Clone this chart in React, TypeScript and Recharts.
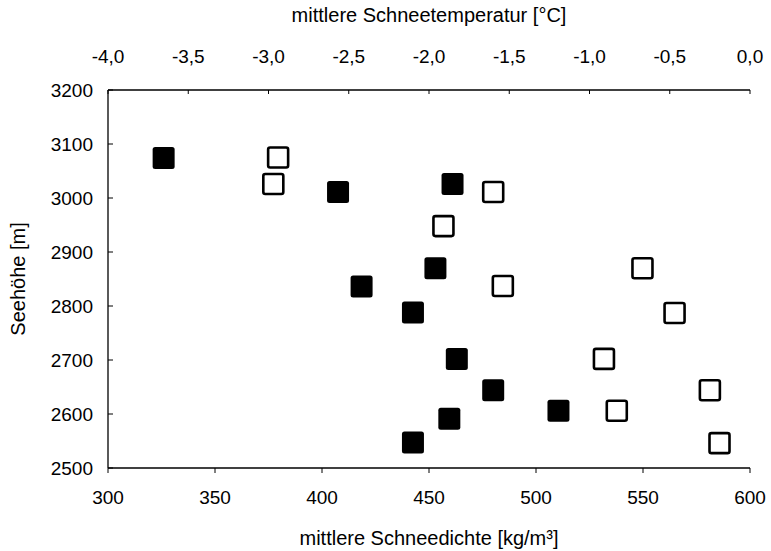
import React from 'react'
import {
  ScatterChart,
  Scatter,
  XAxis,
  YAxis,
  Label,
} from 'recharts'

// Seehöhe [m] der Messpunkte
const DENSITY_ELEVATION = [3074, 3026, 3011, 2870, 2836, 2788, 2702, 2644, 2606, 2591, 2547]
const DENSITY_VALUES = [326, 461, 407.5, 453, 418.5, 442.5, 463, 480, 510.5, 459.5, 442.5]

const TEMP_ELEVATION = [3075, 3026, 3011, 2948, 2870, 2837, 2787, 2702, 2644, 2606, 2546]
const TEMP_VALUES = [-2.94, -2.97, -1.6, -1.91, -0.67, -1.54, -0.47, -0.91, -0.25, -0.83, -0.19]

const DENSITY_TICKS = [300, 350, 400, 450, 500, 550, 600]
const TEMP_TICKS = [-4, -3.5, -3, -2.5, -2, -1.5, -1, -0.5, 0]
const ELEVATION_TICKS = [2500, 2600, 2700, 2800, 2900, 3000, 3100, 3200]

const FONT = '"Liberation Sans", Arial, sans-serif'

const densityData = DENSITY_VALUES.map((v, i) => ({ x: v, y: DENSITY_ELEVATION[i] }))
const tempData = TEMP_VALUES.map((v, i) => ({ x: v, y: TEMP_ELEVATION[i] }))

const FilledSquare = (props: any) => {
  const { cx, cy } = props
  return <rect x={cx - 11} y={cy - 11} width={22} height={22} rx={2.5} fill="#000" />
}

const OpenSquare = (props: any) => {
  const { cx, cy } = props
  return (
    <rect x={cx - 10} y={cy - 10} width={20} height={20} rx={2} fill="#fff" stroke="#000" strokeWidth={2.6} />
  )
}

const tickStyle = { fill: '#000', fontSize: 19, fontFamily: FONT }
const titleStyle = { fill: '#000', fontSize: 20, fontFamily: FONT }
const axisLine = { stroke: '#000', strokeWidth: 1.3 }

export default function App() {
  return (
    <div style={{ position: 'absolute', left: 0, top: 0, background: '#fff' }}>
      <ScatterChart width={771} height={551} margin={{ top: 0, right: 21, bottom: 0, left: 0 }}>
        <XAxis
          xAxisId="dens"
          type="number"
          dataKey="x"
          orientation="bottom"
          domain={[300, 600]}
          ticks={DENSITY_TICKS}
          height={83}
          tick={tickStyle}
          tickSize={5}
          tickMargin={18}
          axisLine={axisLine}
          tickLine={{ stroke: '#000' }}
        >
          <Label value="mittlere Schneedichte [kg/m³]" position="insideBottom" offset={6} style={titleStyle} />
        </XAxis>
        <XAxis
          xAxisId="temp"
          type="number"
          dataKey="x"
          orientation="top"
          domain={[-4, 0]}
          ticks={TEMP_TICKS}
          tickFormatter={(v: number) => v.toFixed(1).replace('.', ',')}
          height={90}
          tick={tickStyle}
          tickSize={-4}
          tickMargin={31}
          axisLine={axisLine}
          tickLine={{ stroke: '#000' }}
        >
          <Label value="mittlere Schneetemperatur [°C]" position="insideTop" offset={8} style={titleStyle} />
        </XAxis>
        <YAxis
          type="number"
          dataKey="y"
          domain={[2500, 3200]}
          ticks={ELEVATION_TICKS}
          width={108}
          tick={tickStyle}
          tickSize={-5}
          tickMargin={20}
          axisLine={axisLine}
          tickLine={{ stroke: '#000' }}
        >
          <Label
            value="Seehöhe [m]"
            angle={-90}
            position="insideLeft"
            offset={18}
            style={{ ...titleStyle, textAnchor: 'middle' }}
          />
        </YAxis>
        <Scatter
          name="Schneetemperatur"
          data={tempData}
          xAxisId="temp"
          shape={OpenSquare}
          isAnimationActive={false}
        />
        <Scatter
          name="Schneedichte"
          data={densityData}
          xAxisId="dens"
          shape={FilledSquare}
          isAnimationActive={false}
        />
      </ScatterChart>
    </div>
  )
}
